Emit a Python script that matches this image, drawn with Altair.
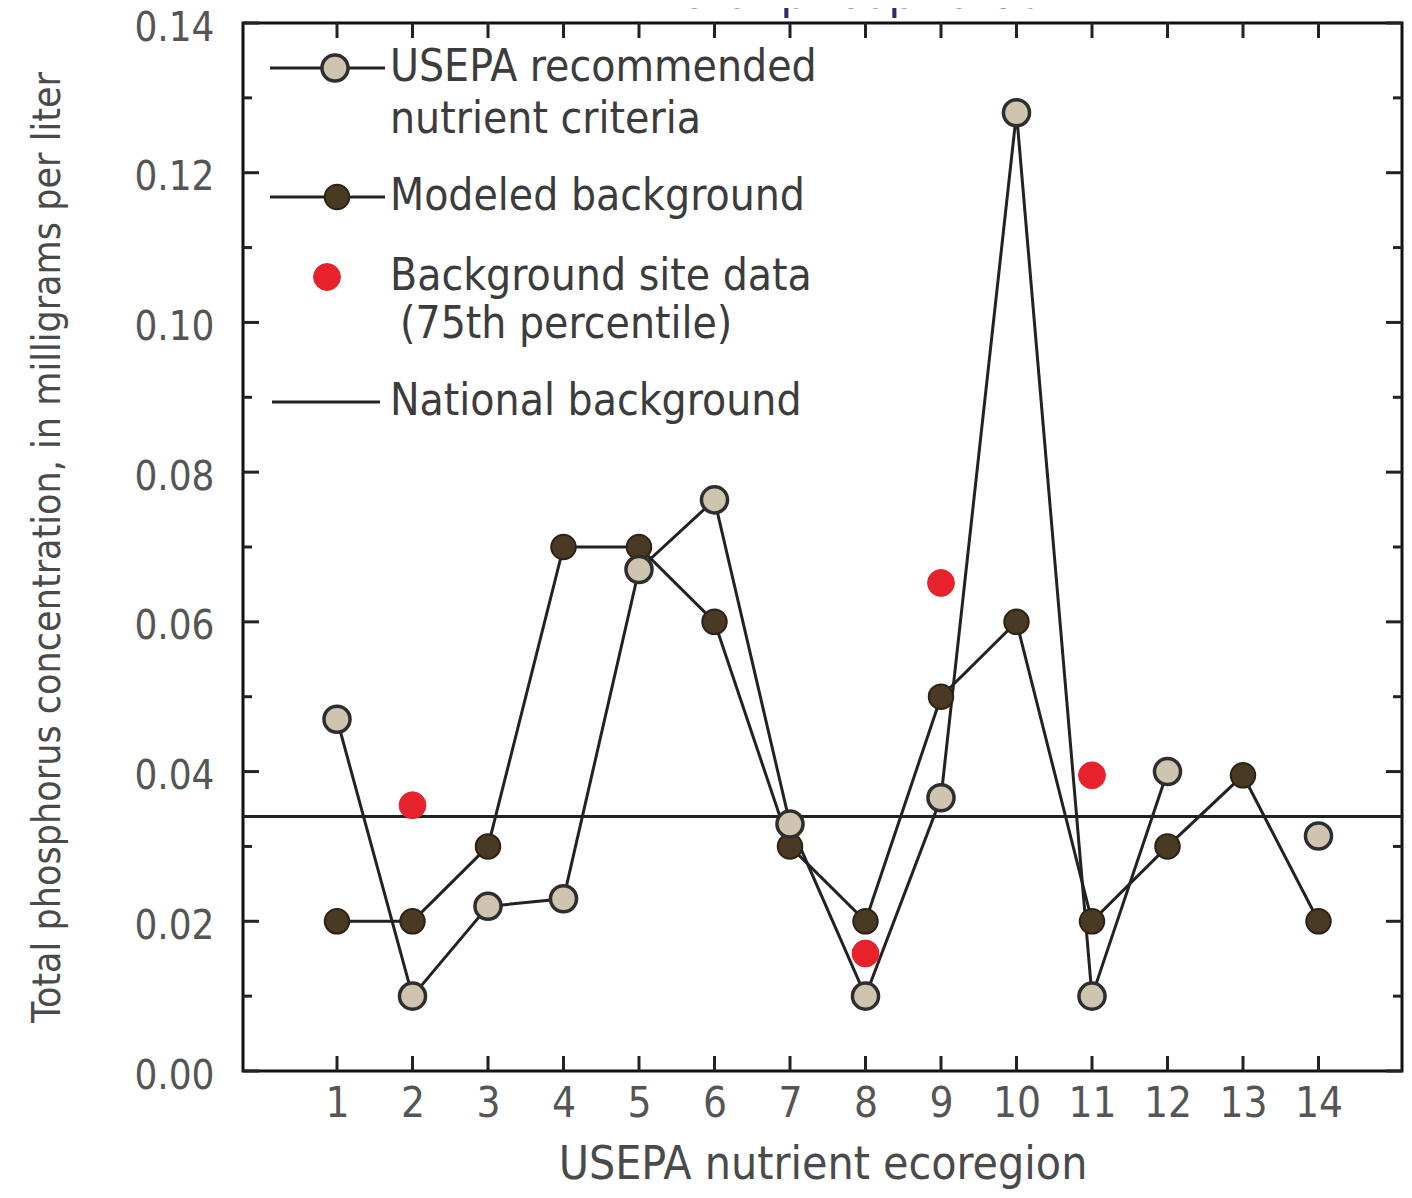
import altair as alt
import pandas as pd

# ---------------- data ----------------
regions = list(range(1, 15))
usepa_criteria = [0.047, 0.010, 0.022, 0.023, 0.067, 0.0763, 0.033, 0.010,
                  0.0365, 0.128, 0.010, 0.040, None, 0.0314]
modeled_background = [0.020, 0.020, 0.030, 0.070, 0.070, 0.060, 0.030, 0.020,
                      0.050, 0.060, 0.020, 0.030, 0.0395, 0.020]
site_regions = [2, 8, 9, 11]
site_values = [0.0355, 0.0157, 0.0652, 0.0395]
national_background = [0.034]

y_major = [0.00, 0.02, 0.04, 0.06, 0.08, 0.10, 0.12, 0.14]
y_minor = [0.01, 0.03, 0.05, 0.07, 0.09, 0.11, 0.13]
x_ticks = regions

# ---------------- layout / style ----------------
W, H = 1159, 1048
FONT = "Liberation Sans Narrow, DejaVu Sans Condensed, Arial Narrow, sans-serif"
INK = "#222222"
TAN = "#cfc4b0"
BROWN = "#4a3a24"
RED = "#e8222c"
TXT = "#4a4a4a"

xs = alt.Scale(domain=[-0.245, 15.106], nice=False, zero=False)
ys = alt.Scale(domain=[0, 0.14], nice=False, zero=False)

# break USEPA line where a value is missing
rows, seg = [], 0
for r, v in zip(regions, usepa_criteria):
    if v is None:
        seg += 1
        continue
    rows.append({"region": r, "value": v, "seg": seg})
usepa_df = pd.DataFrame(rows)
modeled_df = pd.DataFrame({"region": regions, "value": modeled_background})
site_df = pd.DataFrame({"region": site_regions, "value": site_values})
nat_df = pd.DataFrame({"value": national_background})
ymaj_df = pd.DataFrame({"v": y_major})
ymin_df = pd.DataFrame({"v": y_minor})
xt_df = pd.DataFrame({"v": x_ticks})
one = pd.DataFrame({"a": [0]})

x_axis = alt.Axis(values=x_ticks, ticks=False, domain=False, grid=False,
                  labelFontSize=42, labelColor="#555555", labelPadding=12,
                  labelFont=FONT, title="USEPA nutrient ecoregion",
                  titleFont=FONT, titleFontSize=46, titleColor=TXT,
                  titleFontWeight="normal", titlePadding=18)
y_axis = alt.Axis(values=y_major, format=".2f", ticks=False, domain=False,
                  grid=False, labelFontSize=40, labelColor="#555555",
                  labelPadding=29, labelFont=FONT, labelOffset=5,
                  title="Total phosphorus concentration, in milligrams per liter",
                  titleFont=FONT, titleFontSize=39, titleColor=TXT,
                  titleFontWeight="normal", titlePadding=66)

Xr = alt.X("region:Q", scale=xs, axis=x_axis)
Yv = alt.Y("value:Q", scale=ys, axis=y_axis)
Yt = alt.Y("v:Q", scale=ys, axis=y_axis)
Xt = alt.X("v:Q", scale=xs, axis=x_axis)

# national background line
nat = alt.Chart(nat_df).mark_rule(color=INK, strokeWidth=3).encode(
    y=Yv, x=alt.value(0), x2=alt.value(W),
)

modeled_line = alt.Chart(modeled_df).mark_line(color=INK, strokeWidth=3).encode(x=Xr, y=Yv)
usepa_line = alt.Chart(usepa_df).mark_line(color=INK, strokeWidth=3).encode(
    x=Xr, y=Yv, detail="seg:N")
modeled_pts = alt.Chart(modeled_df).mark_point(
    filled=True, fill=BROWN, stroke="#2c2215", strokeWidth=2, size=600, opacity=1
).encode(x=Xr, y=Yv)
usepa_pts = alt.Chart(usepa_df).mark_point(
    filled=False, fill=TAN, fillOpacity=1, stroke="#2e2e2e", strokeWidth=3.5,
    size=680, opacity=1).encode(x=Xr, y=Yv)
site_pts = alt.Chart(site_df).mark_point(
    filled=True, fill=RED, stroke=RED, strokeWidth=1, size=720, opacity=1
).encode(x=Xr, y=Yv)

# inward ticks on all four sides
tick_style = dict(color=INK, strokeWidth=3)
left_major = alt.Chart(ymaj_df).mark_rule(**tick_style).encode(y=Yt, x=alt.value(0), x2=alt.value(16))
left_minor = alt.Chart(ymin_df).mark_rule(**tick_style).encode(y=Yt, x=alt.value(0), x2=alt.value(9))
right_major = alt.Chart(ymaj_df).mark_rule(**tick_style).encode(y=Yt, x=alt.value(W - 16), x2=alt.value(W))
right_minor = alt.Chart(ymin_df).mark_rule(**tick_style).encode(y=Yt, x=alt.value(W - 9), x2=alt.value(W))
bottom_t = alt.Chart(xt_df).mark_rule(**tick_style).encode(x=Xt, y=alt.value(H - 15), y2=alt.value(H))
top_t = alt.Chart(xt_df).mark_rule(**tick_style).encode(x=Xt, y=alt.value(0), y2=alt.value(15))

# chart title, cut off at the top edge as in the source figure
title_txt = alt.Chart(one).mark_text(
    text="Total phosphorus", font=FONT, fontSize=50, color="#2d2d6e",
    align="center", baseline="alphabetic").encode(
    x=alt.value(W / 2 + 30), y=alt.value(-15))

# ---------------- legend ----------------
LX = 147
def txt(s, x, y):
    return alt.Chart(one).mark_text(text=s, font=FONT, fontSize=44, color="#3c3c3c",
                                    align="left", baseline="middle").encode(
        x=alt.value(x), y=alt.value(y))

def hline(x1, x2, y):
    return alt.Chart(one).mark_rule(color=INK, strokeWidth=3).encode(
        x=alt.value(x1), x2=alt.value(x2), y=alt.value(y))

def dot(x, y, fill, stroke, sw, size):
    return alt.Chart(one).mark_point(filled=False, fill=fill, fillOpacity=1, stroke=stroke,
                                     strokeWidth=sw, size=size, opacity=1).encode(
        x=alt.value(x), y=alt.value(y))

legend = [
    hline(27, 142, 45), dot(92, 45, TAN, "#2e2e2e", 3.5, 680),
    txt("USEPA recommended", LX, 45), txt("nutrient criteria", LX, 97),
    hline(27, 142, 174), dot(94, 174, BROWN, "#2c2215", 2, 600),
    txt("Modeled background", LX, 174),
    dot(84, 254, RED, RED, 1, 720),
    txt("Background site data", LX, 254), txt("(75th percentile)", LX + 10, 302),
    hline(29, 137, 379), txt("National background", LX, 379),
]

chart = alt.layer(
    nat, left_major, left_minor, right_major, right_minor, bottom_t, top_t,
    modeled_line, usepa_line, modeled_pts, usepa_pts, site_pts, title_txt, *legend
).properties(
    width=W, height=H,
    padding={"left": 235, "top": 15, "right": 2, "bottom": 127},
    autosize=alt.AutoSizeParams(type="none"),
    background="white",
).configure_view(stroke="#111111", strokeWidth=3)

chart.save("out.html", embed_options={"renderer": "svg", "actions": False})
